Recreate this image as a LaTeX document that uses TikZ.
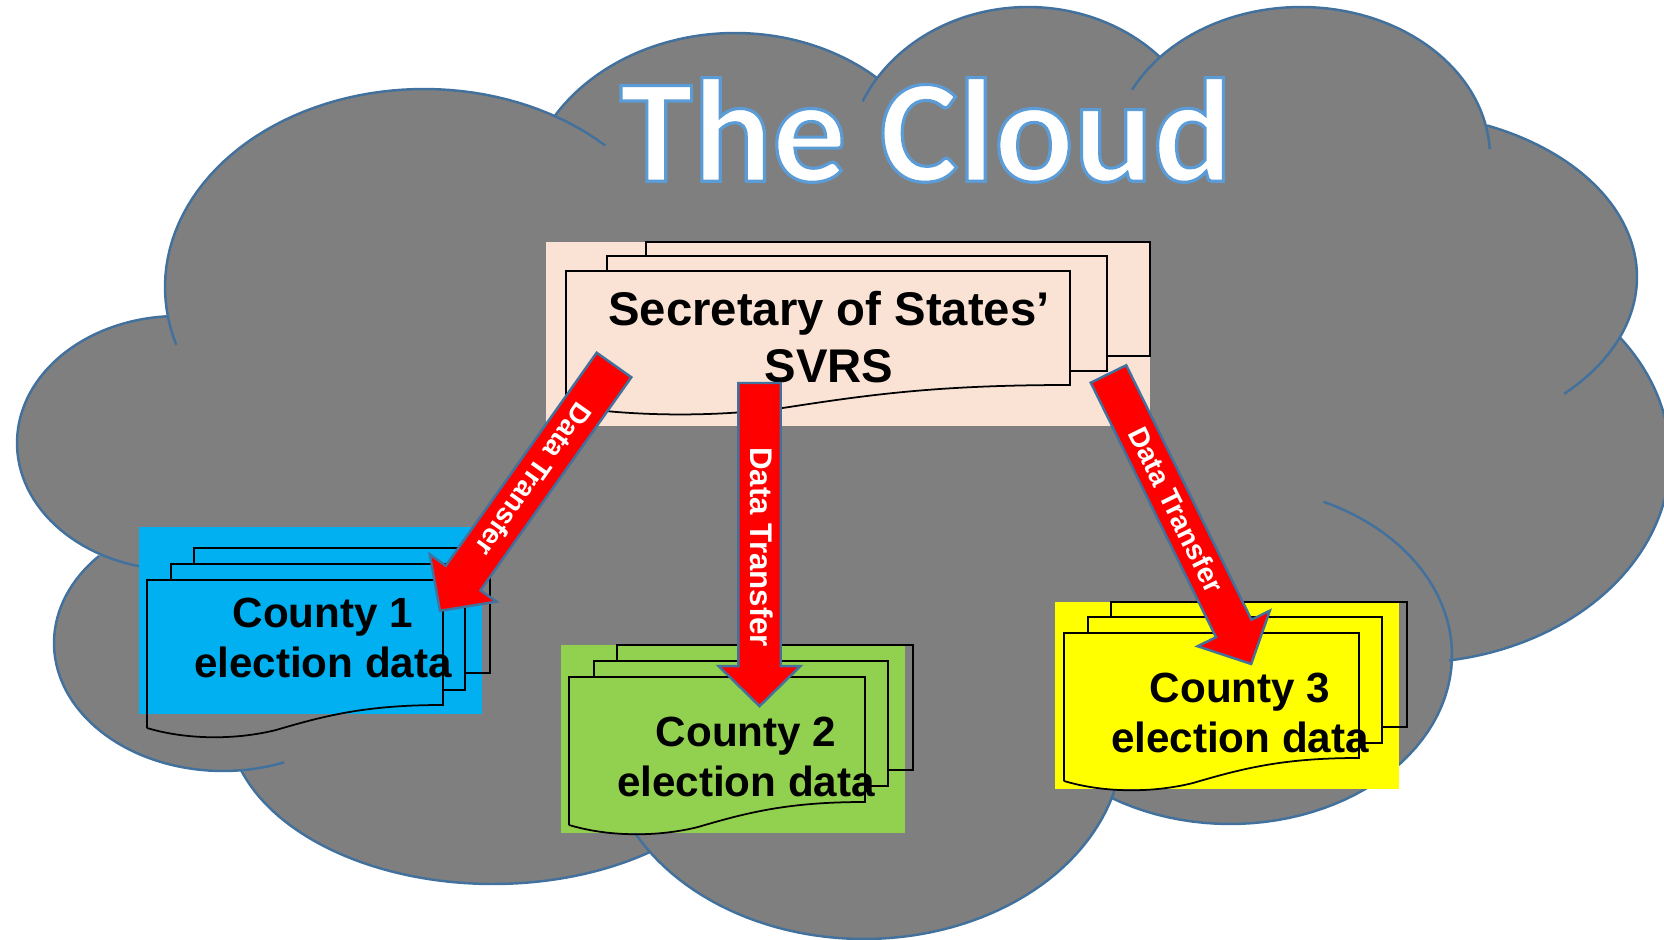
\documentclass[tikz,border=0pt]{standalone}
\usepackage{fontspec}
\setmainfont{Liberation Sans}
\newfontfamily\titlefont{Carlito Bold}
\usetikzlibrary{shapes.arrows}
\definecolor{cloudgray}{HTML}{7F7F7F}
\definecolor{cloudline}{HTML}{41719C}
\definecolor{peach}{HTML}{FAE3D5}
\definecolor{countyblue}{HTML}{00B0F0}
\definecolor{countygreen}{HTML}{92D050}
\definecolor{countyyellow}{HTML}{FFFF00}
\tikzset{
  lobeline/.style={draw=cloudline,line width=0.7pt},
  sheet/.style={draw=black,line width=0.5pt},
  doctext/.style={font=\fontsize{12}{14.4}\bfseries\selectfont,align=center,inner sep=0pt},
  xferarrow/.style={shape=single arrow,draw=cloudline,fill=red,line width=0.7pt,anchor=tail,
    text=white,font=\fontsize{8}{10}\bfseries\selectfont,text height=1.8mm,text depth=0pt,
    inner xsep=0pt,inner ysep=1.1mm,outer sep=0pt,
    single arrow head extend=1.95mm,single arrow tip angle=91,single arrow head indent=0pt}
}
\newcommand{\glowtext}[1]{\special{pdf:code 2 Tr 0.9 w 0.36 0.61 0.84 RG}#1\special{pdf:code 0 Tr}}
\newcommand{\lobearc}[6]{-- plot[domain=#5:#6,samples=60] ({#1+#3*cos(\x)},{#2+#4*sin(\x)})}
\begin{document}
\begin{tikzpicture}[x=0.01cm,y=-0.01cm]
  \useasboundingbox (0,0) rectangle (1664,940);
  \clip (0,0) rectangle (1664,940);
  % 雲の本体
  \fill[cloudgray] (167,317)
    \lobearc{424}{287}{259}{198}{171.4}{300.3}
    \lobearc{735}{205.7}{211}{172.7}{210.9}{312.3}
    \lobearc{1028}{165.8}{181}{158.8}{213.6}{316.8}
    \lobearc{1301}{157}{189}{150}{221.8}{348}
    \lobearc{1389}{277}{248}{165}{-66.7}{21.3}
    \lobearc{1408}{458}{262}{205}{-36.2}{81}
    \lobearc{1230}{655}{222}{169}{0}{122.3}
    \lobearc{864}{740}{259}{199}{16.9}{145.7}
    \lobearc{493}{720}{264.6}{164}{53.6}{162.2}
    \lobearc{223}{643}{169}{128}{83.9}{222.8}
    \lobearc{178}{443}{161}{127}{118.8}{266}
    -- cycle;
  % 雲の輪郭の弧
  \foreach \cx/\cy/\rx/\ry/\from/\to in {
    424/287/259/198/163/314.4, 735/205.7/211/172.7/210.9/312.3,
    1028/165.8/181/158.8/204/316.8, 1301/157/189/150/206.6/357,
    1389/277/248/165/-66.7/45.1, 1408/458/262/205/-36.2/81,
    1230/655/222/169/-65.1/122.3, 864/740/259/199/14/152,
    493/720/264.6/164/53.6/162.2, 223/643/169/128/68.8/222.8,
    178/443/161/127/104/266}
    \draw[lobeline] plot[domain=\from:\to,samples=60] ({\cx+\rx*cos(\x)},{\cy+\ry*sin(\x)});
  % 色付きの長方形
  \fill[peach] (546,242) rectangle (1150,426);
  \fill[countyblue] (139,527) rectangle (482,714);
  \fill[countygreen] (561,645) rectangle (905,833);
  \fill[countyyellow] (1055,602) rectangle (1399,789);
  % Secretary の書類
  \draw[sheet] (646,256) -- (646,242) -- (1150,242) -- (1150,356) -- (1107,356);
  \draw[sheet] (607,271) -- (607,256) -- (1107,256) -- (1107,371) -- (1070,371);
  \draw[sheet] (566,406) -- (566,271) -- (1070,271) -- (1070,385)
    .. controls (941,385) and (873,394) .. (786,407.5) .. controls (718,417) and (634,417) .. (566,406);
  % County 1 の書類
  \draw[sheet] (194,564) -- (194,548) -- (490,548) -- (490,673) -- (465,673);
  \draw[sheet] (171,580) -- (171,564) -- (465,564) -- (465,690) -- (443,690);
  \draw[sheet] (147,728) -- (147,580) -- (443,580) -- (443,705)
    .. controls (367,705) and (327,715) .. (276,730) .. controls (236,740) and (187,740) .. (147,728);
  % County 2 の書類
  \draw[sheet] (617,661) -- (617,645) -- (913,645) -- (913,770) -- (888,770);
  \draw[sheet] (594,677) -- (594,661) -- (888,661) -- (888,786) -- (865,786);
  \draw[sheet] (569,825) -- (569,677) -- (865,677) -- (865,802)
    .. controls (789,802) and (749,812) .. (698,827) .. controls (658,837) and (609,837) .. (569,825);
  % County 3 の書類
  \draw[sheet] (1111,617) -- (1111,602) -- (1407,602) -- (1407,727) -- (1382,727);
  \draw[sheet] (1088,633) -- (1088,617) -- (1382,617) -- (1382,743) -- (1359,743);
  \draw[sheet] (1064,781) -- (1064,633) -- (1359,633) -- (1359,758)
    .. controls (1284,758) and (1244,768) .. (1193,783) .. controls (1153,793) and (1104,793) .. (1064,781);
  % 文字
  \node[inner sep=0pt,text=white,font=\titlefont\fontsize{42}{42}\selectfont] (title) at (926,130) {\glowtext{The Cloud}};
  \node[doctext,font=\fontsize{13.44}{16.4}\bfseries\selectfont] (svrs) at (829,337) {Secretary of States’\\SVRS};
  \node[doctext] (county1) at (323,638) {County 1\\election data};
  \node[doctext] (county2) at (746,757) {County 2\\election data};
  \node[doctext] (county3) at (1240,713) {County 3\\election data};
  % 矢印
  \node[xferarrow,minimum height=3.01cm,rotate=-125.3] (xfer1) at (614,365) {Data Transfer};
  \node[xferarrow,font=\fontsize{8.9}{10}\bfseries\selectfont,minimum height=3.23cm,rotate=-90] (xfer2) at (759.5,383) {\hspace*{0.26cm}Data Transfer};
  \node[xferarrow,inner ysep=0.95mm,single arrow head extend=2.05mm,minimum height=3.23cm,rotate=-63.8] (xfer3) at (1108.5,374) {Data Transfer};
\end{tikzpicture}
\end{document}
